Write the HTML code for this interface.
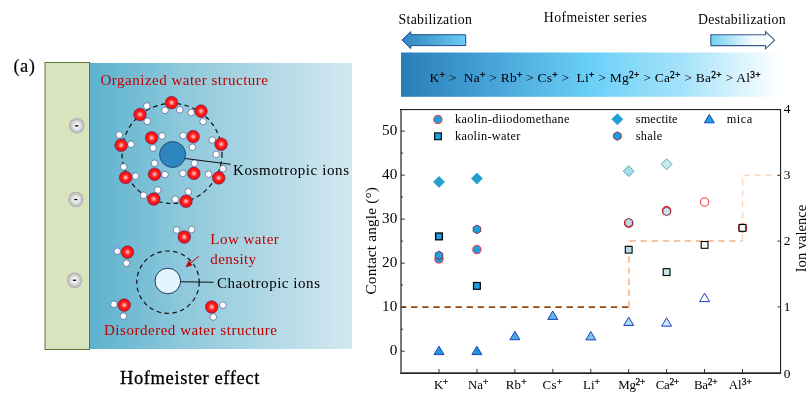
<!DOCTYPE html>
<html><head><meta charset="utf-8"><title>Hofmeister effect</title>
<style>
html,body{margin:0;padding:0;background:#fff;}
body{width:808px;height:405px;overflow:hidden;}
svg{display:block;}
text{font-family:"Liberation Serif","Times New Roman",serif;fill:#000;}
.red{fill:#C00000;}
</style></head><body>
<svg width="808" height="405" viewBox="0 0 808 405">
<defs>
<linearGradient id="gPanel" x1="0" y1="0" x2="1" y2="0">
<stop offset="0" stop-color="#5CB2CE"/><stop offset="0.35" stop-color="#8DC8DB"/><stop offset="1" stop-color="#D3E8F0"/></linearGradient>
<linearGradient id="gBar" x1="0" y1="0" x2="1" y2="0">
<stop offset="0" stop-color="#2A7DB8"/><stop offset="0.25" stop-color="#48A5D9"/><stop offset="0.5" stop-color="#6AD0F7"/><stop offset="0.75" stop-color="#A8E3FA"/><stop offset="0.9" stop-color="#DDF4FD"/><stop offset="1" stop-color="#FFFFFF"/></linearGradient>
<linearGradient id="gArrL" x1="0" y1="0" x2="1" y2="0">
<stop offset="0" stop-color="#2F84C0"/><stop offset="1" stop-color="#6CCBF3"/></linearGradient>
<linearGradient id="gArrR" x1="0" y1="0" x2="1" y2="0">
<stop offset="0" stop-color="#6FD0F5"/><stop offset="0.65" stop-color="#F4FBFE"/><stop offset="1" stop-color="#FFFFFF"/></linearGradient>
<radialGradient id="gO" cx="0.5" cy="0.5" r="0.5">
<stop offset="0" stop-color="#FFD8D8"/><stop offset="0.5" stop-color="#FF2020"/><stop offset="1" stop-color="#FF0000"/></radialGradient>
<radialGradient id="gNeg" cx="0.5" cy="0.5" r="0.5">
<stop offset="0" stop-color="#FFFFFF"/><stop offset="0.45" stop-color="#E6E6E6"/><stop offset="1" stop-color="#ABABAB"/></radialGradient>
</defs>

<rect x="89" y="63" width="263" height="286" fill="url(#gPanel)"/>
<rect x="45" y="62.5" width="44.5" height="287" fill="#D7E4BD" stroke="#5A7536" stroke-width="1"/>
<circle cx="76.8" cy="125.8" r="7.7" fill="url(#gNeg)"/>
<rect x="75.1" y="125.2" width="3.2" height="1.3" fill="#000"/>
<circle cx="75.9" cy="199.5" r="7.7" fill="url(#gNeg)"/>
<rect x="74.2" y="198.9" width="3.2" height="1.3" fill="#000"/>
<circle cx="74.6" cy="280.2" r="7.7" fill="url(#gNeg)"/>
<rect x="72.89999999999999" y="279.59999999999997" width="3.2" height="1.3" fill="#000"/>
<text x="13.5" y="72" font-size="18.5" textLength="21.3" stroke="#000" stroke-width="0.15">(a)</text>
<text class="red" x="100.5" y="85" font-size="15" textLength="167.5">Organized water structure</text>
<text class="red" x="104" y="335.3" font-size="15" textLength="173">Disordered water structure</text>
<text class="red" x="210.3" y="244.4" font-size="15" textLength="68.5">Low water</text>
<text class="red" x="210.3" y="264.1" font-size="15" textLength="45.7">density</text>
<text x="233" y="174.6" font-size="15" textLength="116">Kosmotropic ions</text>
<text x="217" y="287.5" font-size="15" textLength="103">Chaotropic ions</text>
<text x="120" y="384" font-size="18.5" textLength="139.3" stroke="#000" stroke-width="0.3">Hofmeister effect</text>
<circle cx="172" cy="153.5" r="50" fill="none" stroke="#111" stroke-width="1.2" stroke-dasharray="4.5 3.5"/>
<circle cx="168" cy="282.2" r="31.2" fill="none" stroke="#111" stroke-width="1.2" stroke-dasharray="4.5 3.5"/>
<line x1="181" y1="158" x2="230.5" y2="164.3" stroke="#111" stroke-width="1.1"/>
<circle cx="172.6" cy="154.5" r="13" fill="#2E86C1" stroke="#1F4E79" stroke-width="1"/>
<line x1="180.7" y1="281.8" x2="213.6" y2="282.3" stroke="#111" stroke-width="1.1"/>
<circle cx="167.8" cy="281" r="12.8" fill="#E3F5FC" stroke="#1F3864" stroke-width="1"/>
<line x1="198.8" y1="256.3" x2="188" y2="265.2" stroke="#C00000" stroke-width="1"/>
<polygon points="185.6,267.2 188.6,260.6 192.4,265.2" fill="#C00000"/>
<circle cx="165" cy="110.3" r="3.3" fill="#FFFFFF" stroke="#3A4A80" stroke-width="0.6"/>
<circle cx="179.8" cy="109.8" r="3.3" fill="#FFFFFF" stroke="#3A4A80" stroke-width="0.6"/>
<circle cx="171.6" cy="102.6" r="6.3" fill="url(#gO)" stroke="#4A3070" stroke-width="0.6"/>
<circle cx="191.2" cy="112.6" r="3.3" fill="#FFFFFF" stroke="#3A4A80" stroke-width="0.6"/>
<circle cx="203.1" cy="121.6" r="3.3" fill="#FFFFFF" stroke="#3A4A80" stroke-width="0.6"/>
<circle cx="201" cy="111.1" r="6.3" fill="url(#gO)" stroke="#4A3070" stroke-width="0.6"/>
<circle cx="146.8" cy="106" r="3.3" fill="#FFFFFF" stroke="#3A4A80" stroke-width="0.6"/>
<circle cx="147.3" cy="121.3" r="3.3" fill="#FFFFFF" stroke="#3A4A80" stroke-width="0.6"/>
<circle cx="140" cy="114.5" r="6.3" fill="url(#gO)" stroke="#4A3070" stroke-width="0.6"/>
<circle cx="119.2" cy="134.9" r="3.3" fill="#FFFFFF" stroke="#3A4A80" stroke-width="0.6"/>
<circle cx="131" cy="144.2" r="3.3" fill="#FFFFFF" stroke="#3A4A80" stroke-width="0.6"/>
<circle cx="121.1" cy="145.2" r="6.3" fill="url(#gO)" stroke="#4A3070" stroke-width="0.6"/>
<circle cx="162.1" cy="136" r="3.3" fill="#FFFFFF" stroke="#3A4A80" stroke-width="0.6"/>
<circle cx="153.1" cy="148" r="3.3" fill="#FFFFFF" stroke="#3A4A80" stroke-width="0.6"/>
<circle cx="151.6" cy="137.8" r="6.3" fill="url(#gO)" stroke="#4A3070" stroke-width="0.6"/>
<circle cx="183.2" cy="135.6" r="3.3" fill="#FFFFFF" stroke="#3A4A80" stroke-width="0.6"/>
<circle cx="192.4" cy="147.3" r="3.3" fill="#FFFFFF" stroke="#3A4A80" stroke-width="0.6"/>
<circle cx="193.2" cy="136.6" r="6.3" fill="url(#gO)" stroke="#4A3070" stroke-width="0.6"/>
<circle cx="212.2" cy="140" r="3.3" fill="#FFFFFF" stroke="#3A4A80" stroke-width="0.6"/>
<circle cx="216.2" cy="154.4" r="3.3" fill="#FFFFFF" stroke="#3A4A80" stroke-width="0.6"/>
<circle cx="221.1" cy="144.2" r="6.3" fill="url(#gO)" stroke="#4A3070" stroke-width="0.6"/>
<circle cx="123.7" cy="167" r="3.3" fill="#FFFFFF" stroke="#3A4A80" stroke-width="0.6"/>
<circle cx="135.5" cy="176.1" r="3.3" fill="#FFFFFF" stroke="#3A4A80" stroke-width="0.6"/>
<circle cx="125.6" cy="177.5" r="6.3" fill="url(#gO)" stroke="#4A3070" stroke-width="0.6"/>
<circle cx="154.6" cy="163.3" r="3.3" fill="#FFFFFF" stroke="#3A4A80" stroke-width="0.6"/>
<circle cx="165" cy="174.5" r="3.3" fill="#FFFFFF" stroke="#3A4A80" stroke-width="0.6"/>
<circle cx="154.6" cy="174.2" r="6.3" fill="url(#gO)" stroke="#4A3070" stroke-width="0.6"/>
<circle cx="194.4" cy="163.3" r="3.3" fill="#FFFFFF" stroke="#3A4A80" stroke-width="0.6"/>
<circle cx="182.8" cy="173.4" r="3.3" fill="#FFFFFF" stroke="#3A4A80" stroke-width="0.6"/>
<circle cx="193.9" cy="173.4" r="6.3" fill="url(#gO)" stroke="#4A3070" stroke-width="0.6"/>
<circle cx="222.9" cy="168.7" r="3.3" fill="#FFFFFF" stroke="#3A4A80" stroke-width="0.6"/>
<circle cx="208.5" cy="174.2" r="3.3" fill="#FFFFFF" stroke="#3A4A80" stroke-width="0.6"/>
<circle cx="218.7" cy="177.9" r="6.3" fill="url(#gO)" stroke="#4A3070" stroke-width="0.6"/>
<circle cx="157.8" cy="190" r="3.3" fill="#FFFFFF" stroke="#3A4A80" stroke-width="0.6"/>
<circle cx="143.6" cy="195.2" r="3.3" fill="#FFFFFF" stroke="#3A4A80" stroke-width="0.6"/>
<circle cx="153.8" cy="199" r="6.3" fill="url(#gO)" stroke="#4A3070" stroke-width="0.6"/>
<circle cx="188.4" cy="191.8" r="3.3" fill="#FFFFFF" stroke="#3A4A80" stroke-width="0.6"/>
<circle cx="175.3" cy="199.3" r="3.3" fill="#FFFFFF" stroke="#3A4A80" stroke-width="0.6"/>
<circle cx="186" cy="201.2" r="6.3" fill="url(#gO)" stroke="#4A3070" stroke-width="0.6"/>
<circle cx="176.6" cy="230" r="3.3" fill="#FFFFFF" stroke="#3A4A80" stroke-width="0.6"/>
<circle cx="191.6" cy="229.6" r="3.3" fill="#FFFFFF" stroke="#3A4A80" stroke-width="0.6"/>
<circle cx="184.3" cy="237" r="6.3" fill="url(#gO)" stroke="#4A3070" stroke-width="0.6"/>
<circle cx="117.4" cy="251.3" r="3.3" fill="#FFFFFF" stroke="#3A4A80" stroke-width="0.6"/>
<circle cx="126.4" cy="263.2" r="3.3" fill="#FFFFFF" stroke="#3A4A80" stroke-width="0.6"/>
<circle cx="127.5" cy="252.1" r="6.3" fill="url(#gO)" stroke="#4A3070" stroke-width="0.6"/>
<circle cx="113.9" cy="304.3" r="3.3" fill="#FFFFFF" stroke="#3A4A80" stroke-width="0.6"/>
<circle cx="123.4" cy="316.2" r="3.3" fill="#FFFFFF" stroke="#3A4A80" stroke-width="0.6"/>
<circle cx="124.2" cy="305.1" r="6.3" fill="url(#gO)" stroke="#4A3070" stroke-width="0.6"/>
<circle cx="222.9" cy="305.1" r="3.3" fill="#FFFFFF" stroke="#3A4A80" stroke-width="0.6"/>
<circle cx="213.3" cy="317" r="3.3" fill="#FFFFFF" stroke="#3A4A80" stroke-width="0.6"/>
<circle cx="211.7" cy="307" r="6.3" fill="url(#gO)" stroke="#4A3070" stroke-width="0.6"/>
<text x="398.6" y="23.7" font-size="13.8" textLength="73.3">Stabilization</text>
<text x="543.8" y="21.8" font-size="13.8" textLength="103.1">Hofmeister series</text>
<text x="698" y="23.5" font-size="13.8" textLength="87.6">Destabilization</text>
<polygon points="402,40.1 410.8,31.6 410.8,34.7 465.7,34.7 465.7,45.6 410.8,45.6 410.8,48.7" fill="url(#gArrL)" stroke="#1F4E8C" stroke-width="1" stroke-linejoin="miter"/>
<polygon points="774.6,40.2 765.5,31.6 765.5,34.7 710.8,34.7 710.8,45.6 765.5,45.6 765.5,48.8" fill="url(#gArrR)" stroke="#3A5A86" stroke-width="1.1" stroke-linejoin="miter"/>
<rect x="401" y="52.5" width="380" height="44.3" fill="url(#gBar)"/>
<text x="429.5" y="82" font-size="13.5" textLength="331" xml:space="preserve">K<tspan font-size="9.5" dy="-4" stroke="#000" stroke-width="0.3">+</tspan><tspan dy="4"> &gt;  </tspan>Na<tspan font-size="9.5" dy="-4" stroke="#000" stroke-width="0.3">+</tspan><tspan dy="4"> &gt; </tspan>Rb<tspan font-size="9.5" dy="-4" stroke="#000" stroke-width="0.3">+</tspan><tspan dy="4"> &gt; </tspan>Cs<tspan font-size="9.5" dy="-4" stroke="#000" stroke-width="0.3">+</tspan><tspan dy="4"> &gt;  </tspan>Li<tspan font-size="9.5" dy="-4" stroke="#000" stroke-width="0.3">+</tspan><tspan dy="4"> &gt; </tspan>Mg<tspan font-size="9.5" dy="-4" stroke="#000" stroke-width="0.3">2+</tspan><tspan dy="4"> &gt; </tspan>Ca<tspan font-size="9.5" dy="-4" stroke="#000" stroke-width="0.3">2+</tspan><tspan dy="4"> &gt; </tspan>Ba<tspan font-size="9.5" dy="-4" stroke="#000" stroke-width="0.3">2+</tspan><tspan dy="4"> &gt; </tspan>Al<tspan font-size="9.5" dy="-4" stroke="#000" stroke-width="0.3">3+</tspan><tspan dy="4"></tspan></text>
<path d="M400,307.1 H628.99" fill="none" stroke="#94480E" stroke-width="1.8" stroke-dasharray="6.4 4.7"/>
<path d="M628.99,307.1 V240.9 H742.51" fill="none" stroke="#F4B183" stroke-width="1.5" stroke-dasharray="6.4 4.7"/>
<path d="M742.51,240.9 V175.3 H780" fill="none" stroke="#FBD9C0" stroke-width="1.5" stroke-dasharray="6.4 4.7"/>
<rect x="400" y="109" width="2" height="265" fill="#777"/>
<rect x="400" y="372" width="381" height="1" fill="#666"/>
<rect x="400" y="373" width="381" height="1" fill="#222"/>
<rect x="400" y="109" width="381" height="1.1" fill="#222"/>
<rect x="780" y="109" width="1.1" height="265" fill="#222"/>
<line x1="401" y1="351.2" x2="404.8" y2="351.2" stroke="#333" stroke-width="1"/>
<text x="397.3" y="355.09999999999997" font-size="15.2" text-anchor="end">0</text>
<line x1="401" y1="307.18" x2="404.8" y2="307.18" stroke="#333" stroke-width="1"/>
<text x="397.3" y="311.08" font-size="15.2" text-anchor="end">10</text>
<line x1="401" y1="263.15999999999997" x2="404.8" y2="263.15999999999997" stroke="#333" stroke-width="1"/>
<text x="397.3" y="267.05999999999995" font-size="15.2" text-anchor="end">20</text>
<line x1="401" y1="219.14" x2="404.8" y2="219.14" stroke="#333" stroke-width="1"/>
<text x="397.3" y="223.04" font-size="15.2" text-anchor="end">30</text>
<line x1="401" y1="175.11999999999998" x2="404.8" y2="175.11999999999998" stroke="#333" stroke-width="1"/>
<text x="397.3" y="179.01999999999998" font-size="15.2" text-anchor="end">40</text>
<line x1="401" y1="131.1" x2="404.8" y2="131.1" stroke="#333" stroke-width="1"/>
<text x="397.3" y="135.0" font-size="15.2" text-anchor="end">50</text>
<line x1="401" y1="329.19" x2="403" y2="329.19" stroke="#333" stroke-width="1"/>
<line x1="401" y1="285.16999999999996" x2="403" y2="285.16999999999996" stroke="#333" stroke-width="1"/>
<line x1="401" y1="241.14999999999998" x2="403" y2="241.14999999999998" stroke="#333" stroke-width="1"/>
<line x1="401" y1="197.13" x2="403" y2="197.13" stroke="#333" stroke-width="1"/>
<line x1="401" y1="153.10999999999999" x2="403" y2="153.10999999999999" stroke="#333" stroke-width="1"/>
<text x="783.8" y="377.5" font-size="13.4" >0</text>
<line x1="781" y1="306.9" x2="777.5" y2="306.9" stroke="#333" stroke-width="1"/>
<text x="783.8" y="311.4" font-size="13.4" >1</text>
<line x1="781" y1="241.1" x2="777.5" y2="241.1" stroke="#333" stroke-width="1"/>
<text x="783.8" y="245.29999999999998" font-size="13.4" >2</text>
<line x1="781" y1="175.3" x2="777.5" y2="175.3" stroke="#333" stroke-width="1"/>
<text x="783.8" y="179.20000000000002" font-size="13.4" >3</text>
<text x="783.8" y="113.1" font-size="13.4" >4</text>
<line x1="438.99" y1="373" x2="438.99" y2="369" stroke="#333" stroke-width="1"/>
<text x="433.9" y="388.6" font-size="12.9" textLength="14.3">K<tspan font-size="9.5" dy="-3.8" stroke="#000" stroke-width="0.25">+</tspan></text>
<line x1="476.93" y1="373" x2="476.93" y2="369" stroke="#333" stroke-width="1"/>
<text x="468" y="388.6" font-size="12.9" textLength="20.3">Na<tspan font-size="9.5" dy="-3.8" stroke="#000" stroke-width="0.25">+</tspan></text>
<line x1="514.87" y1="373" x2="514.87" y2="369" stroke="#333" stroke-width="1"/>
<text x="505.7" y="388.6" font-size="12.9" textLength="20.8">Rb<tspan font-size="9.5" dy="-3.8" stroke="#000" stroke-width="0.25">+</tspan></text>
<line x1="552.81" y1="373" x2="552.81" y2="369" stroke="#333" stroke-width="1"/>
<text x="542.6" y="388.6" font-size="12.9" textLength="19.8">Cs<tspan font-size="9.5" dy="-3.8" stroke="#000" stroke-width="0.25">+</tspan></text>
<line x1="590.75" y1="373" x2="590.75" y2="369" stroke="#333" stroke-width="1"/>
<text x="583" y="388.6" font-size="12.9" textLength="16.9">Li<tspan font-size="9.5" dy="-3.8" stroke="#000" stroke-width="0.25">+</tspan></text>
<line x1="628.69" y1="373" x2="628.69" y2="369" stroke="#333" stroke-width="1"/>
<text x="618.3" y="388.6" font-size="12.9" textLength="27.0">Mg<tspan font-size="9.5" dy="-3.8" stroke="#000" stroke-width="0.25">2+</tspan></text>
<line x1="666.63" y1="373" x2="666.63" y2="369" stroke="#333" stroke-width="1"/>
<text x="655.8" y="388.6" font-size="12.9" textLength="23.3">Ca<tspan font-size="9.5" dy="-3.8" stroke="#000" stroke-width="0.25">2+</tspan></text>
<line x1="704.5699999999999" y1="373" x2="704.5699999999999" y2="369" stroke="#333" stroke-width="1"/>
<text x="694.1" y="388.6" font-size="12.9" textLength="23.4">Ba<tspan font-size="9.5" dy="-3.8" stroke="#000" stroke-width="0.25">2+</tspan></text>
<line x1="742.51" y1="373" x2="742.51" y2="369" stroke="#333" stroke-width="1"/>
<text x="728.8" y="388.6" font-size="12.9" textLength="23.0">Al<tspan font-size="9.5" dy="-3.8" stroke="#000" stroke-width="0.25">3+</tspan></text>
<text transform="translate(376,240.8) rotate(-90)" font-size="15.3" text-anchor="middle" textLength="107.5">Contact angle (°)</text>
<text transform="translate(806.4,238.5) rotate(-90)" font-size="14.6" text-anchor="middle" textLength="67.5">Ion valence</text>
<circle cx="437.9" cy="119.5" r="4.1" fill="#1E9FDE" stroke="#FF2A2A" stroke-width="1"/>
<rect x="434.6" y="132.9" width="6.8" height="6.8" fill="#1E9FDE" stroke="#000" stroke-width="1.1"/>
<polygon points="617.4,113.8 622.9,119.3 617.4,124.8 611.9,119.3" fill="#22A0D2" stroke="#22A0D2" stroke-width="0.8"/>
<polygon points="617.4,131.8 621.1,133.9 621.1,138.2 617.4,140.4 613.7,138.2 613.7,133.9" fill="#1E9FDE" stroke="#8A2040" stroke-width="0.9"/>
<polygon points="709.3,114.4 714.3,122.8 704.3,122.8" fill="#1E9FDE" stroke="#2040C0" stroke-width="1"/>
<text x="455" y="122.8" font-size="12.3" textLength="114.5">kaolin-diiodomethane</text>
<text x="455" y="139.7" font-size="12.3" textLength="65.3">kaolin-water</text>
<text x="635.8" y="122.8" font-size="12.3" textLength="41.6">smectite</text>
<text x="635.8" y="139.7" font-size="12.3" textLength="26.4">shale</text>
<text x="726.7" y="122.8" font-size="12.3" textLength="25.4">mica</text>
<polygon points="439.0,176.4 444.5,181.9 439.0,187.4 433.5,181.9" fill="#24A0D0" stroke="#24A0D0" stroke-width="0.8"/>
<polygon points="476.9,173.0 482.4,178.5 476.9,184.0 471.4,178.5" fill="#24A0D0" stroke="#24A0D0" stroke-width="0.8"/>
<polygon points="628.7,165.7 634.2,171.2 628.7,176.7 623.2,171.2" fill="#A8DCE6" stroke="#3AA0A8" stroke-width="0.8"/>
<polygon points="666.6,158.7 672.1,164.2 666.6,169.7 661.1,164.2" fill="#C8E8EE" stroke="#3AA0A8" stroke-width="0.8"/>
<circle cx="439.0" cy="259.0" r="4.1" fill="#1E9FDE" stroke="#FF2A2A" stroke-width="1"/>
<circle cx="476.9" cy="249.6" r="4.1" fill="#1E9FDE" stroke="#FF2A2A" stroke-width="1"/>
<circle cx="628.7" cy="223.2" r="4.2" fill="#B5DCE8" stroke="#F01010" stroke-width="1.2"/>
<circle cx="666.6" cy="210.8" r="4.2" fill="#C8E4EC" stroke="#F01010" stroke-width="1.2"/>
<circle cx="704.6" cy="202.0" r="4.1" fill="#FFFFFF" stroke="#FF2A2A" stroke-width="1"/>
<circle cx="742.5" cy="227.9" r="4.1" fill="#FFFFFF" stroke="#FF2A2A" stroke-width="1"/>
<polygon points="439.0,251.1 442.7,253.2 442.7,257.6 439.0,259.7 435.3,257.6 435.3,253.2" fill="#1E9FDE" stroke="#8A2040" stroke-width="0.9"/>
<polygon points="476.9,225.1 480.7,227.2 480.7,231.6 476.9,233.7 473.2,231.6 473.2,227.2" fill="#1E9FDE" stroke="#8A2040" stroke-width="0.9"/>
<polygon points="628.7,218.4 632.4,220.5 632.4,224.8 628.7,227.0 625.0,224.8 625.0,220.5" fill="#B5DCE8" stroke="#8A2040" stroke-width="0.9"/>
<polygon points="666.6,207.1 670.4,209.2 670.4,213.6 666.6,215.7 662.9,213.6 662.9,209.2" fill="#C8E4EC" stroke="#8A2040" stroke-width="0.9"/>
<rect x="435.6" y="233.0" width="6.8" height="6.8" fill="#1E9FDE" stroke="#000" stroke-width="1.3"/>
<rect x="473.5" y="282.5" width="6.8" height="6.8" fill="#1E9FDE" stroke="#000" stroke-width="1.2"/>
<rect x="625.3" y="246.3" width="6.8" height="6.8" fill="#B5DCE8" stroke="#000" stroke-width="1.1"/>
<rect x="663.2" y="268.7" width="6.8" height="6.8" fill="#C8E4EC" stroke="#000" stroke-width="1.1"/>
<rect x="701.2" y="241.5" width="6.8" height="6.8" fill="#F4FAFA" stroke="#000" stroke-width="1.1"/>
<rect x="739.1" y="224.5" width="6.8" height="6.8" fill="#F4FAFA" stroke="#000" stroke-width="1.1"/>
<polygon points="439.0,346.2 444.0,354.6 434.0,354.6" fill="#1E96DC" stroke="#2040C0" stroke-width="1"/>
<polygon points="476.9,346.2 481.9,354.6 471.9,354.6" fill="#1E96DC" stroke="#2040C0" stroke-width="1"/>
<polygon points="514.9,331.3 519.9,339.7 509.9,339.7" fill="#3FA9E2" stroke="#2040C0" stroke-width="1"/>
<polygon points="552.8,311.0 557.8,319.4 547.8,319.4" fill="#5BB8E8" stroke="#2040C0" stroke-width="1"/>
<polygon points="590.8,331.5 595.8,339.9 585.8,339.9" fill="#78C6EA" stroke="#2040C0" stroke-width="1"/>
<polygon points="628.7,317.1 633.7,325.5 623.7,325.5" fill="#A5D8F0" stroke="#2040C0" stroke-width="1"/>
<polygon points="666.6,317.8 671.6,326.2 661.6,326.2" fill="#CBE8F5" stroke="#2040C0" stroke-width="1"/>
<polygon points="704.6,293.2 709.6,301.6 699.6,301.6" fill="#FDFEFF" stroke="#2040C0" stroke-width="1"/>
</svg></body></html>
